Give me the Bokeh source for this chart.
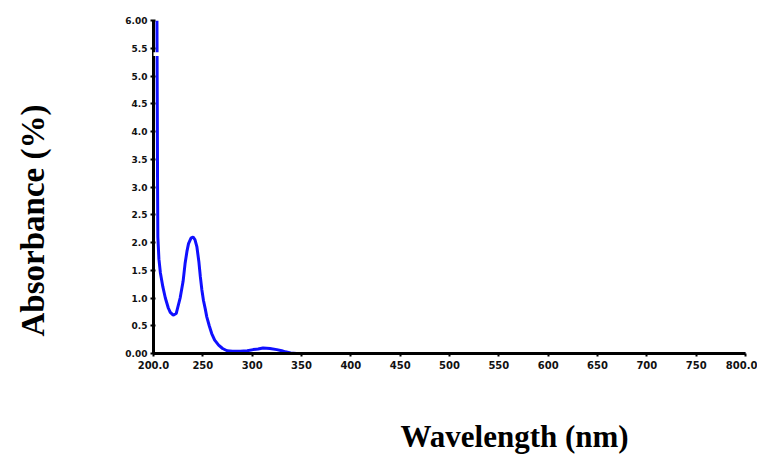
from bokeh.plotting import figure
from bokeh.models import FixedTicker, BoxAnnotation, Title, LinearAxis
from bokeh.embed import file_html
from bokeh.resources import INLINE

wavelength = [203.5, 203.8, 204.1, 204.4, 205.5, 207, 209.5, 212, 215, 217, 220, 223,
              227, 230, 232, 234, 235.5, 238, 240, 242, 244, 246, 247.5, 249,
              250.6, 252.5, 254, 256.5, 259, 262, 266, 270, 274.6, 280, 288,
              295, 301, 306, 311, 318, 325, 330, 333.6, 339, 345, 352, 400,
              500, 600, 700, 800]
absorbance = [6.0, 4.6, 3.1, 2.1, 1.7, 1.45, 1.2, 1.0, 0.82, 0.74, 0.69, 0.72,
              1.0, 1.3, 1.62, 1.85, 1.98, 2.08, 2.1, 2.05, 1.92, 1.65, 1.38, 1.15,
              0.96, 0.8, 0.66, 0.5, 0.36, 0.24, 0.15, 0.09, 0.05, 0.04, 0.04,
              0.05, 0.07, 0.08, 0.1, 0.09, 0.07, 0.05, 0.03, 0.01, 0.0, 0.0, 0.0,
              0.0, 0.0, 0.0, 0.0]

x_ticks = [200, 250, 300, 350, 400, 450, 500, 550, 600, 650, 700, 750, 800]
x_tick_labels = ["200.0", "250", "300", "350", "400", "450", "500", "550",
                 "600", "650", "700", "750", "800.0"]
y_ticks = [0, 0.5, 1.0, 1.5, 2.0, 2.5, 3.0, 3.5, 4.0, 4.5, 5.0, 5.5, 6.0]
y_tick_labels = ["0.00", "0.5", "1.0", "1.5", "2.0", "2.5", "3.0", "3.5",
                 "4.0", "4.5", "5.0", "5.5", "6.00"]

p = figure(width=757, height=454, x_range=(200, 800), y_range=(0, 6.0),
           output_backend="svg", toolbar_location=None,
           min_border_left=153, min_border_right=12, min_border_top=20,
           min_border_bottom=101)
p.outline_line_color = None
p.grid.visible = False
p.background_fill_color = "white"
p.border_fill_color = "white"

p.line(wavelength, absorbance, line_color="#1010ff", line_width=3)

for ax in (p.xaxis[0], p.yaxis[0]):
    ax.axis_line_width = 3
    ax.axis_line_color = "black"
    ax.major_tick_line_width = 2
    ax.major_tick_line_color = "black"
    ax.minor_tick_line_color = None
    ax.major_label_text_font = "DejaVu Sans"
    ax.major_label_text_font_style = "bold"
    ax.major_label_text_color = "#111111"

p.xaxis.ticker = FixedTicker(ticks=x_ticks)
p.xaxis.major_label_overrides = {t: l for t, l in zip(x_ticks, x_tick_labels)}
p.xaxis.major_tick_out = 3
p.xaxis.major_tick_in = 0
p.xaxis.major_label_text_font_size = "10px"
p.xaxis.major_label_standoff = 4

p.yaxis.ticker = FixedTicker(ticks=y_ticks)
p.yaxis.major_label_overrides = {t: l for t, l in zip(y_ticks, y_tick_labels)}
p.yaxis.major_tick_out = 3
p.yaxis.major_tick_in = 2
p.yaxis.major_label_text_font_size = "9px"
p.yaxis.major_label_standoff = 3


def spacer(extent, at):
    # invisible axis used only to reserve room between tick labels and axis titles
    return LinearAxis(ticker=FixedTicker(ticks=[at]), major_tick_out=extent,
                      major_tick_in=0, minor_tick_out=0, minor_tick_in=0,
                      major_label_standoff=0, major_label_overrides={at: ""},
                      major_label_text_font_size="1px",
                      axis_line_color=None, major_tick_line_color=None,
                      minor_tick_line_color=None, major_label_text_color=None)


p.add_layout(spacer(45, 500), "below")
p.add_layout(spacer(72, 3.0), "left")

# axis break mark
p.add_layout(BoxAnnotation(left=190, right=212, bottom=5.36, top=5.43,
                           fill_color="white", fill_alpha=1.0, line_alpha=0))

p.add_layout(Title(text="Absorbance (%)", align="left", offset=17, standoff=0,
                   text_font="Liberation Serif", text_font_style="bold",
                   text_font_size="33px", text_color="black"), "left")
p.add_layout(Title(text="Wavelength (nm)", align="left", offset=247, standoff=0,
                   text_font="Liberation Serif", text_font_style="bold",
                   text_font_size="31px", text_color="black"), "below")

open("out.html", "w").write(file_html(p, INLINE))
